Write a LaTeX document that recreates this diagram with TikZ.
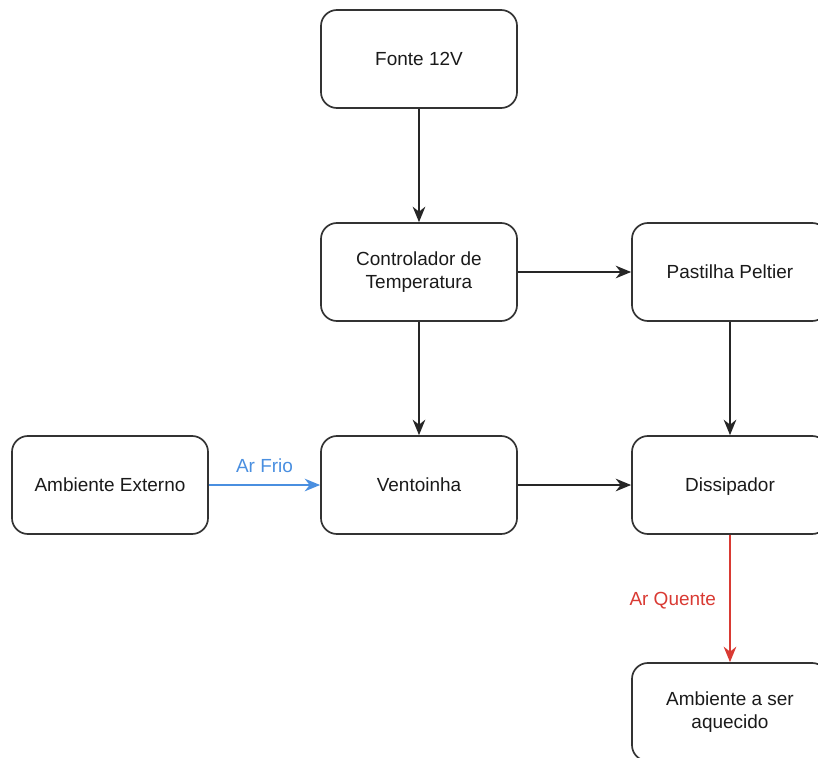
\documentclass[tikz,border=0pt]{standalone}
\usepackage{fontspec}
\setmainfont{Liberation Sans}
\usetikzlibrary{arrows.meta}
\definecolor{arblue}{HTML}{4A8FE0}
\definecolor{arred}{HTML}{D93A33}
\definecolor{txt}{HTML}{1A1A1A}
\begin{document}
\begin{tikzpicture}[x=0.025cm,y=-0.025cm,
  box/.style={draw=black!80,line width=1.2pt,rounded corners=0.4cm,minimum width=4.9cm,minimum height=2.45cm,align=center,font=\fontsize{13.5}{16}\selectfont,text=txt,inner sep=0pt},
  conn/.style={line width=1.2pt,-{Stealth[length=11pt,width=9pt]}},
  lbl/.style={font=\fontsize{13.5}{16}\selectfont}]
\useasboundingbox (0,0) rectangle (818,758);
\node[box] (fonte) at (419,59) {Fonte 12V};
\node[box] (ctrl) at (419,272) {Controlador de\\Temperatura};
\node[box] (pelt) at (730,272) {Pastilha Peltier};
\node[box] (ext) at (110,485) {Ambiente Externo};
\node[box] (vent) at (419,485) {Ventoinha};
\node[box,text depth=0pt] (diss) at (730,485) {Dissipador};
\node[box] (amb) at (730,712) {Ambiente a ser\\aquecido};
\draw[conn,black!85] (fonte) -- (ctrl);
\draw[conn,black!85] (ctrl) -- (pelt);
\draw[conn,black!85] (ctrl) -- (vent);
\draw[conn,black!85] (pelt) -- (diss);
\draw[conn,black!85] (vent) -- (diss);
\draw[conn,arblue] (ext) -- node[lbl,above=5pt,text=arblue]{Ar Frio} (vent);
\draw[conn,arred] (diss) -- node[lbl,left=6pt,text=arred,pos=0.52]{Ar Quente} (amb);
\end{tikzpicture}
\end{document}
